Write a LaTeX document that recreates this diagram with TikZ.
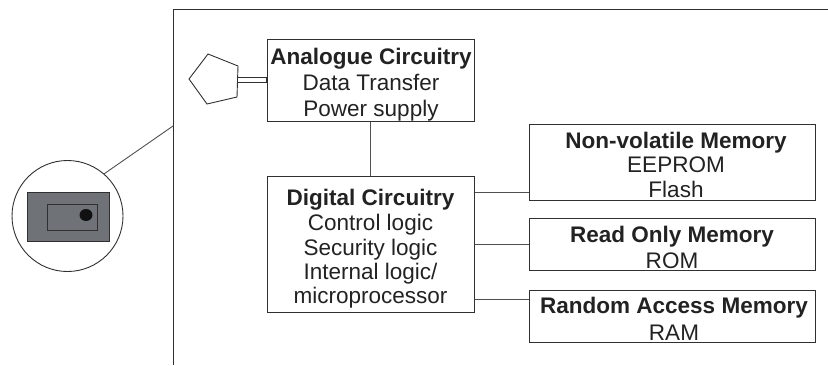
\documentclass[tikz,border=0pt]{standalone}
\usepackage{fontspec}
\setmainfont{Liberation Sans}
\definecolor{boxc}{HTML}{303030}
\definecolor{linec}{HTML}{505050}
\definecolor{txt}{HTML}{222222}
\definecolor{cardfill}{HTML}{6F7277}
\definecolor{dotc}{HTML}{111111}
\begin{document}
\begin{tikzpicture}[x=1bp,y=-1bp,
  box/.style={draw=boxc, line width=1bp, inner sep=0pt, rectangle},
  conn/.style={draw=linec, line width=0.9bp},
  ttl/.style={anchor=base, inner sep=0pt, text=txt, font=\fontsize{22.6}{26}\selectfont\bfseries},
  sub/.style={anchor=base, inner sep=0pt, text=txt, font=\fontsize{22.6}{26}\selectfont}]
\useasboundingbox (0,0) rectangle (828,365);
% frame
\coordinate (fb) at (173,365);
\coordinate (fc) at (173,9);
\coordinate (fr) at (828,9);
\coordinate (fp) at (173,126);
\draw[boxc, line width=1bp] (fb) -- (fc) -- (fr);
% boxes
\node[box, minimum width=207bp, minimum height=82bp] (ana) at (370.5,80) {};
\node[box, minimum width=207bp, minimum height=136bp] (dig) at (370.5,244) {};
\node[box, minimum width=286bp, minimum height=76bp] (nvm) at (672,162) {};
\node[box, minimum width=286bp, minimum height=52bp] (rom) at (672,244) {};
\node[box, minimum width=286bp, minimum height=52bp] (ram) at (672,316) {};
% texts
\node[ttl] (t1) at (371,64) {Analogue Circuitry};
\node[sub] (t2) at (371,90) {Data Transfer};
\node[sub] (t3) at (371,116) {Power supply};
\node[ttl] (t4) at (370.5,205) {Digital Circuitry};
\node[sub] (t5) at (370.5,230) {Control logic};
\node[sub] (t6) at (370.5,255) {Security logic};
\node[sub] (t7) at (370.5,279) {Internal logic/};
\node[sub] (t8) at (370.5,303) {microprocessor};
\node[ttl] (t9) at (676,148) {Non-volatile Memory};
\node[sub] (t10) at (676,172) {EEPROM};
\node[sub] (t11) at (676,197) {Flash};
\node[ttl] (t12) at (672,242) {Read Only Memory};
\node[sub] (t13) at (672,268) {ROM};
\node[ttl] (t14) at (674,313) {Random Access Memory};
\node[sub] (t15) at (674,340) {RAM};
% connectors
\draw[conn] (ana.south) -- (dig.north);
\draw[conn] (dig.east |- 0,192) -- (nvm.west |- 0,192);
\draw[conn] (dig.east) -- (rom.west);
\draw[conn] (dig.east |- 0,299) -- (ram.west |- 0,299);
% pentagon with stick
\draw[boxc, line width=0.9bp] (208,54) -- (238,66) -- (237,97) -- (207,104) -- (189,79) -- cycle;
\draw[boxc, line width=0.9bp, fill=white] (237,77) rectangle (ana.west |- 0,82);
% lens circle with card
\node[circle, draw=boxc, line width=0.9bp, minimum size=111bp, inner sep=0pt] (lens) at (67.5,216) {};
\draw[conn] (lens.49) -- (fp);
\draw[draw=boxc, line width=0.9bp, fill=cardfill] (27,192) rectangle (109,241);
\draw[draw=boxc, line width=0.9bp, fill=cardfill] (47,204) rectangle (97,230);
\fill[dotc] (86,215) ellipse [x radius=6.5, y radius=6];
\end{tikzpicture}
\end{document}
